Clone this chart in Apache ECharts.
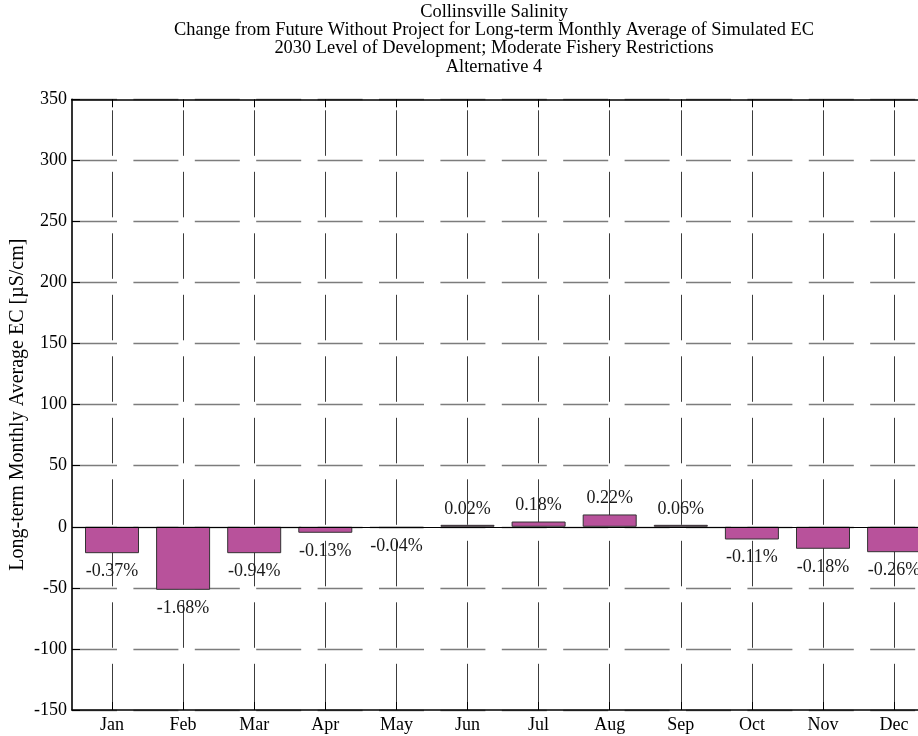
<!DOCTYPE html>
<html>
<head>
<meta charset="utf-8">
<script src="https://cdn.jsdelivr.net/npm/echarts@6/dist/echarts.min.js"></script>
<style>
  html, body { margin: 0; padding: 0; background: #fff; }
  #chart { width: 918px; height: 736px; }
</style>
</head>
<body>
<div id="chart"></div>
<script>
// Monthly change in long-term average EC at Collinsville (µS/cm)
const months = ['Jan', 'Feb', 'Mar', 'Apr', 'May', 'Jun', 'Jul', 'Aug', 'Sep', 'Oct', 'Nov', 'Dec'];
const ecChange = [-21.6, -51.6, -21.6, -4.9, -1.1, 1.6, 4.3, 10.1, 1.6, -10.4, -18.0, -20.8];
const pctLabels = ['-0.37%', '-1.68%', '-0.94%', '-0.13%', '-0.04%', '0.02%', '0.18%', '0.22%', '0.06%', '-0.11%', '-0.18%', '-0.26%'];
const yTickValues = [-150, -100, -50, 0, 50, 100, 150, 200, 250, 300, 350];
const titleLines = [
  'Collinsville Salinity',
  'Change from Future Without Project for Long-term Monthly Average of Simulated EC',
  '2030 Level of Development; Moderate Fishery Restrictions',
  'Alternative 4'
];
const yAxisTitle = 'Long-term Monthly Average EC [µS/cm]';

const FONT = '"Liberation Serif", "Times New Roman", serif';
const monthPositions = months.map((m, i) => i + 1);

// plot frame (the right side runs past the canvas edge)
const gridLeft = 72, gridTop = 99.3, gridHeight = 610.7;
const xMin = 0.4374, xMax = 12.5, unitPx = 71.1;
const gridWidth = (xMax - xMin) * unitPx;

const chart = echarts.init(document.getElementById('chart'), null, { renderer: 'canvas' });

const barData = months.map((m, i) => ({
  value: [monthPositions[i], ecChange[i]],
  label: {
    position: ecChange[i] < 0 ? 'bottom' : 'top',
    distance: ecChange[i] < 0 ? 9 : 7
  }
}));

const titleGraphics = titleLines.map((t, i) => ({
  type: 'text',
  x: 494,
  y: 12 + i * 18.3,
  style: {
    text: t,
    fill: '#000',
    font: '18.4px ' + FONT,
    textAlign: 'center',
    textVerticalAlign: 'middle'
  }
}));

const monthAxisCommon = {
  type: 'value',
  min: xMin,
  max: xMax,
  axisLine: { show: true, onZero: false, lineStyle: { color: '#000', width: 1.6 } },
  axisTick: {
    show: true, inside: true, length: 8,
    customValues: monthPositions,
    lineStyle: { color: '#000', width: 1 }
  }
};

chart.setOption({
  animation: false,
  backgroundColor: '#fff',
  graphic: titleGraphics,
  grid: {
    left: gridLeft, top: gridTop, width: gridWidth, height: gridHeight,
    containLabel: false, outerBoundsMode: 'none'
  },
  xAxis: [
    Object.assign({}, monthAxisCommon, {
      position: 'bottom',
      axisLabel: {
        show: true,
        customValues: monthPositions,
        formatter: v => months[Math.round(v) - 1] || '',
        color: '#000',
        fontFamily: FONT,
        fontSize: 18,
        margin: 6
      },
      splitLine: {
        show: true,
        lineStyle: { color: '#3c3c3c', width: 1, type: [45.5, 16], dashOffset: 50.5 }
      }
    }),
    Object.assign({}, monthAxisCommon, {
      position: 'top',
      axisLabel: { show: false },
      splitLine: { show: false }
    })
  ],
  yAxis: {
    type: 'value',
    min: yTickValues[0],
    max: yTickValues[yTickValues.length - 1],
    interval: yTickValues[1] - yTickValues[0],
    name: yAxisTitle,
    nameLocation: 'middle',
    nameRotate: 90,
    nameGap: 44,
    nameMoveOverlap: false,
    nameTextStyle: { color: '#000', fontFamily: FONT, fontSize: 20 },
    axisLine: { show: true, lineStyle: { color: '#000', width: 1.6 } },
    axisTick: { show: true, inside: true, length: 8, lineStyle: { color: '#000', width: 1 } },
    axisLabel: { color: '#000', fontFamily: FONT, fontSize: 18, margin: 5 },
    splitLine: {
      show: true,
      lineStyle: { color: '#7c7c7c', width: 1.4, type: [45, 16.4], dashOffset: 0 }
    }
  },
  series: [{
    type: 'bar',
    xAxisIndex: 0,
    data: barData,
    barWidth: 54,
    itemStyle: { color: '#b8529b', borderColor: '#333', borderWidth: 1 },
    label: {
      show: true,
      formatter: p => pctLabels[p.dataIndex],
      color: '#1a1a1a',
      fontFamily: FONT,
      fontSize: 18
    },
    markLine: {
      silent: true,
      symbol: 'none',
      label: { show: false },
      lineStyle: { color: '#000', type: 'solid', width: 1.2 },
      data: [{ yAxis: 0 }]
    }
  }]
});
</script>
</body>
</html>
